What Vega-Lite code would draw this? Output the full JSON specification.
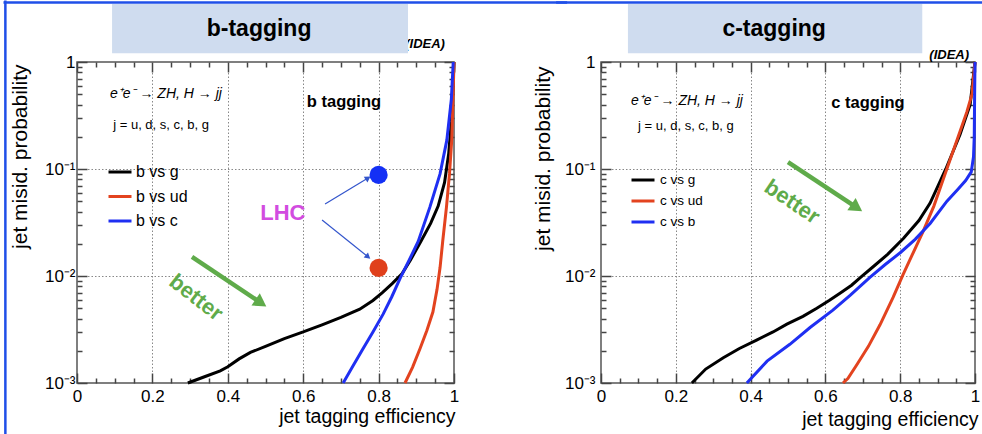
{
  "$schema": "https://vega.github.io/schema/vega-lite/v6.json",
  "padding": {"left": 1, "top": -2, "right": 0, "bottom": 0},
  "config": {
    "view": {"stroke": "#555555", "strokeWidth": 1.5},
    "axis": {"labelColor": "black", "titleColor": "black", "tickColor": "#444444", "tickWidth": 1.5, "domain": false, "labelFont": "Liberation Sans", "titleFont": "Liberation Sans"},
    "legend": {"labelFont": "Liberation Sans"},
    "text": {"font": "Liberation Sans"}
  },
  "bounds": "flush",
  "spacing": 147,
  "resolve": {"scale": {"color": "independent"}, "legend": {"color": "independent"}},
  "hconcat": [
    {
      "width": 377,
      "height": 321,
      "resolve": {"axis": {"x": "independent", "y": "independent"}},
      "layer": [
        {
          "data": {"values": [
            {"s": "b vs g", "x": 0.294, "y": 0.001}, {"s": "b vs g", "x": 0.34, "y": 0.00115}, {"s": "b vs g", "x": 0.38, "y": 0.0013}, {"s": "b vs g", "x": 0.40, "y": 0.00142}, {"s": "b vs g", "x": 0.43, "y": 0.00168}, {"s": "b vs g", "x": 0.46, "y": 0.00193}, {"s": "b vs g", "x": 0.50, "y": 0.0022}, {"s": "b vs g", "x": 0.55, "y": 0.0026}, {"s": "b vs g", "x": 0.60, "y": 0.0030}, {"s": "b vs g", "x": 0.65, "y": 0.0035}, {"s": "b vs g", "x": 0.70, "y": 0.0041}, {"s": "b vs g", "x": 0.75, "y": 0.0049}, {"s": "b vs g", "x": 0.785, "y": 0.0059}, {"s": "b vs g", "x": 0.81, "y": 0.0070}, {"s": "b vs g", "x": 0.836, "y": 0.0085}, {"s": "b vs g", "x": 0.862, "y": 0.0105}, {"s": "b vs g", "x": 0.885, "y": 0.0142}, {"s": "b vs g", "x": 0.912, "y": 0.021}, {"s": "b vs g", "x": 0.938, "y": 0.031}, {"s": "b vs g", "x": 0.958, "y": 0.045}, {"s": "b vs g", "x": 0.975, "y": 0.075}, {"s": "b vs g", "x": 0.986, "y": 0.14}, {"s": "b vs g", "x": 0.993, "y": 0.28}, {"s": "b vs g", "x": 0.997, "y": 0.55}, {"s": "b vs g", "x": 1.0, "y": 1.0},
            {"s": "b vs ud", "x": 0.870, "y": 0.001}, {"s": "b vs ud", "x": 0.89, "y": 0.0014}, {"s": "b vs ud", "x": 0.91, "y": 0.0021}, {"s": "b vs ud", "x": 0.928, "y": 0.0031}, {"s": "b vs ud", "x": 0.944, "y": 0.0046}, {"s": "b vs ud", "x": 0.955, "y": 0.0075}, {"s": "b vs ud", "x": 0.963, "y": 0.012}, {"s": "b vs ud", "x": 0.97, "y": 0.021}, {"s": "b vs ud", "x": 0.98, "y": 0.044}, {"s": "b vs ud", "x": 0.988, "y": 0.09}, {"s": "b vs ud", "x": 0.994, "y": 0.186}, {"s": "b vs ud", "x": 0.998, "y": 0.55}, {"s": "b vs ud", "x": 1.0, "y": 1.0},
            {"s": "b vs c", "x": 0.706, "y": 0.001}, {"s": "b vs c", "x": 0.73, "y": 0.0014}, {"s": "b vs c", "x": 0.759, "y": 0.0021}, {"s": "b vs c", "x": 0.785, "y": 0.003}, {"s": "b vs c", "x": 0.812, "y": 0.0044}, {"s": "b vs c", "x": 0.835, "y": 0.0064}, {"s": "b vs c", "x": 0.857, "y": 0.0095}, {"s": "b vs c", "x": 0.88, "y": 0.0138}, {"s": "b vs c", "x": 0.905, "y": 0.021}, {"s": "b vs c", "x": 0.936, "y": 0.044}, {"s": "b vs c", "x": 0.963, "y": 0.09}, {"s": "b vs c", "x": 0.981, "y": 0.186}, {"s": "b vs c", "x": 0.993, "y": 0.45}, {"s": "b vs c", "x": 0.998, "y": 1.0}
          ]},
          "mark": {"type": "line", "strokeWidth": 3},
          "encoding": {
            "x": {"field": "x", "type": "quantitative", "scale": {"domain": [0, 1], "nice": false, "zero": false},
              "axis": {"orient": "bottom", "values": [0, 0.2, 0.4, 0.6, 0.8, 1], "ticks": true, "tickSize": -10, "grid": false,
                "labelOverlap": false, "labelFlush": false, "labelFontSize": 17, "labelPadding": 15, "format": "~g",
                "title": "jet tagging efficiency", "titleFontSize": 19.5, "titleFontWeight": "normal", "titleAlign": "right", "titleX": 378, "titleY": 39, "titleBaseline": "alphabetic"}},
            "y": {"field": "y", "type": "quantitative", "scale": {"type": "log", "domain": [0.001, 1], "nice": false},
              "axis": {"orient": "left", "values": [0.001, 0.01, 0.1, 1], "ticks": true, "tickSize": -10, "grid": false,
                "labelExpr": "abs(datum.value-1)<1e-6 ? '1' : abs(datum.value-0.1)<1e-6 ? '10⁻¹' : abs(datum.value-0.01)<1e-7 ? '10⁻²' : '10⁻³'",
                "labelOverlap": false, "labelFlush": false, "labelFontSize": 17, "labelPadding": 12,
                "title": "jet misid. probability", "titleFontSize": 21, "titleFontWeight": "normal", "titleAngle": -90, "titleAlign": "right", "titleX": -51, "titleY": 2, "titleBaseline": "alphabetic"}},
            "color": {"field": "s", "type": "nominal", "scale": {"domain": ["b vs g", "b vs ud", "b vs c"], "range": ["#000000", "#e3431f", "#1f2ff2"]},
              "legend": {"orient": "none", "legendX": 30, "legendY": 97, "title": null, "symbolType": "stroke", "symbolStrokeWidth": 3, "symbolSize": 529, "labelFontSize": 16, "labelColor": "black", "rowPadding": 3.5, "labelOffset": 3, "padding": 0}}
          }
        },
        {
          "data": {"values": [{"x": 0.5, "y": 0.1}]},
          "mark": {"type": "point", "opacity": 0},
          "encoding": {
            "x": {"field": "x", "type": "quantitative", "scale": {"domain": [0, 1], "nice": false, "zero": false},
              "axis": {"orient": "bottom", "values": [0.2, 0.4, 0.6, 0.8], "ticks": false, "labels": false, "title": null, "grid": true, "gridDash": [1.5, 2], "gridColor": "#888888", "gridWidth": 1}},
            "y": {"field": "y", "type": "quantitative", "scale": {"type": "log", "domain": [0.001, 1], "nice": false},
              "axis": {"orient": "left", "values": [0.01, 0.1], "ticks": false, "labels": false, "title": null, "grid": true, "gridDash": [1.5, 2], "gridColor": "#888888", "gridWidth": 1}}
          }
        },
        {
          "data": {"values": [{"x": 0.5, "y": 0.1}]},
          "mark": {"type": "point", "opacity": 0},
          "encoding": {
            "x": {"field": "x", "type": "quantitative", "scale": {"domain": [0, 1], "nice": false, "zero": false},
              "axis": {"orient": "top", "offset": -10, "ticks": true, "tickSize": 10, "tickColor": "#444444", "tickWidth": 1.5, "values": [0, 0.2, 0.4, 0.6, 0.8, 1], "labels": false, "title": null}},
            "y": {"field": "y", "type": "quantitative", "scale": {"type": "log", "domain": [0.001, 1], "nice": false},
              "axis": {"orient": "right", "offset": -10, "ticks": true, "tickSize": 10, "tickColor": "#444444", "tickWidth": 1.5, "values": [0.001, 0.01, 0.1, 1], "labels": false, "title": null}}
          }
        },
        {
          "data": {"values": [{"x": 0.5, "y": 0.1}]},
          "mark": {"type": "point", "opacity": 0},
          "encoding": {
            "x": {"field": "x", "type": "quantitative", "scale": {"domain": [0, 1], "nice": false, "zero": false},
              "axis": {"orient": "bottom", "offset": -5, "ticks": true, "tickSize": 5, "tickColor": "#444444", "tickWidth": 1.5, "values": [0.05,0.1,0.15,0.25,0.3,0.35,0.45,0.5,0.55,0.65,0.7,0.75,0.85,0.9,0.95], "labels": false, "title": null}},
            "y": {"field": "y", "type": "quantitative", "scale": {"type": "log", "domain": [0.001, 1], "nice": false},
              "axis": {"orient": "left", "offset": -5, "ticks": true, "tickSize": 5, "tickColor": "#444444", "tickWidth": 1.5, "values": [0.002,0.003,0.004,0.005,0.006,0.007,0.008,0.009,0.02,0.03,0.04,0.05,0.06,0.07,0.08,0.09,0.2,0.3,0.4,0.5,0.6,0.7,0.8,0.9], "labels": false, "title": null}}
          }
        },
        {
          "data": {"values": [{"x": 0.5, "y": 0.1}]},
          "mark": {"type": "point", "opacity": 0},
          "encoding": {
            "x": {"field": "x", "type": "quantitative", "scale": {"domain": [0, 1], "nice": false, "zero": false},
              "axis": {"orient": "top", "offset": -5, "ticks": true, "tickSize": 5, "tickColor": "#444444", "tickWidth": 1.5, "values": [0.05,0.1,0.15,0.25,0.3,0.35,0.45,0.5,0.55,0.65,0.7,0.75,0.85,0.9,0.95], "labels": false, "title": null}},
            "y": {"field": "y", "type": "quantitative", "scale": {"type": "log", "domain": [0.001, 1], "nice": false},
              "axis": {"orient": "right", "offset": -5, "ticks": true, "tickSize": 5, "tickColor": "#444444", "tickWidth": 1.5, "values": [0.002,0.003,0.004,0.005,0.006,0.007,0.008,0.009,0.02,0.03,0.04,0.05,0.06,0.07,0.08,0.09,0.2,0.3,0.4,0.5,0.6,0.7,0.8,0.9], "labels": false, "title": null}}
          }
        },
        {
          "data": {"values": [{"x": -0.19, "x2": -0.19, "y": 3.75, "y2": 0.0003}, {"x": -0.195, "x2": 1.3, "y": 3.6, "y2": 3.6}]},
          "mark": {"type": "rule", "color": "#1f4fe8", "strokeWidth": 2.5},
          "encoding": {"x": {"field": "x", "type": "quantitative", "axis": null}, "x2": {"field": "x2"}, "y": {"field": "y", "type": "quantitative", "axis": null}, "y2": {"field": "y2"}}
        },
        {
          "data": {"values": [{"x": 0.976, "y": 1.47, "t": "FCC-ee Simulation (IDEA)"}]},
          "mark": {"type": "text", "align": "right", "baseline": "middle", "fontSize": 13, "fontStyle": "italic", "fontWeight": "bold", "color": "black"},
          "encoding": {"x": {"field": "x", "type": "quantitative", "axis": null}, "y": {"field": "y", "type": "quantitative", "axis": null}, "text": {"field": "t"}}
        },
        {
          "data": {"values": [{"x": 0.093, "x2": 0.878, "y": 3.48, "y2": 1.21}]},
          "mark": {"type": "rect", "color": "#cfdcef"},
          "encoding": {"x": {"field": "x", "type": "quantitative", "axis": null}, "x2": {"field": "x2"}, "y": {"field": "y", "type": "quantitative", "axis": null}, "y2": {"field": "y2"}}
        },
        {
          "data": {"values": [{"x": 0.483, "y": 2.03, "t": "b-tagging"}]},
          "mark": {"type": "text", "align": "center", "baseline": "middle", "fontSize": 23, "fontWeight": "bold", "color": "black"},
          "encoding": {"x": {"field": "x", "type": "quantitative", "axis": null}, "y": {"field": "y", "type": "quantitative", "axis": null}, "text": {"field": "t"}}
        },
        {
          "data": {"values": [{"x": 0.236, "y": 0.5, "t": "e⁺e⁻ → ZH, H → jj"}]},
          "mark": {"type": "text", "align": "center", "baseline": "middle", "fontSize": 14, "fontStyle": "italic", "color": "black"},
          "encoding": {"x": {"field": "x", "type": "quantitative", "axis": null}, "y": {"field": "y", "type": "quantitative", "axis": null}, "text": {"field": "t"}}
        },
        {
          "data": {"values": [{"x": 0.223, "y": 0.26, "t": "j = u, d, s, c, b, g"}]},
          "mark": {"type": "text", "align": "center", "baseline": "middle", "fontSize": 13, "color": "black"},
          "encoding": {"x": {"field": "x", "type": "quantitative", "axis": null}, "y": {"field": "y", "type": "quantitative", "axis": null}, "text": {"field": "t"}}
        },
        {
          "data": {"values": [{"x": 0.708, "y": 0.42, "t": "b tagging"}]},
          "mark": {"type": "text", "align": "center", "baseline": "middle", "fontSize": 16.5, "fontWeight": "bold", "color": "black"},
          "encoding": {"x": {"field": "x", "type": "quantitative", "axis": null}, "y": {"field": "y", "type": "quantitative", "axis": null}, "text": {"field": "t"}}
        },
        {
          "data": {"values": [{"x": 0.546, "y": 0.039, "t": "LHC"}]},
          "mark": {"type": "text", "align": "center", "baseline": "middle", "fontSize": 22, "fontWeight": "bold", "color": "#d24ce0"},
          "encoding": {"x": {"field": "x", "type": "quantitative", "axis": null}, "y": {"field": "y", "type": "quantitative", "axis": null}, "text": {"field": "t"}}
        },
        {
          "data": {"values": [{"x": 0.658, "y": 0.0471, "x2": 0.772, "y2": 0.0824}, {"x": 0.65, "y": 0.0334, "x2": 0.772, "y2": 0.0151}]},
          "mark": {"type": "rule", "color": "#3355cc", "strokeWidth": 1.2},
          "encoding": {"x": {"field": "x", "type": "quantitative", "axis": null}, "x2": {"field": "x2"}, "y": {"field": "y", "type": "quantitative", "axis": null}, "y2": {"field": "y2"}}
        },
        {
          "data": {"values": [{"x": 0.772, "y": 0.0824}]},
          "mark": {"type": "point", "shape": "triangle-right", "angle": -33, "size": 45, "filled": true, "color": "#3355cc", "opacity": 1},
          "encoding": {"x": {"field": "x", "type": "quantitative", "axis": null}, "y": {"field": "y", "type": "quantitative", "axis": null}}
        },
        {
          "data": {"values": [{"x": 0.772, "y": 0.0151}]},
          "mark": {"type": "point", "shape": "triangle-right", "angle": 40, "size": 45, "filled": true, "color": "#3355cc", "opacity": 1},
          "encoding": {"x": {"field": "x", "type": "quantitative", "axis": null}, "y": {"field": "y", "type": "quantitative", "axis": null}}
        },
        {
          "data": {"values": [{"x": 0.8, "y": 0.088}]},
          "mark": {"type": "point", "shape": "circle", "size": 330, "filled": true, "color": "#1430f5", "opacity": 1},
          "encoding": {"x": {"field": "x", "type": "quantitative", "axis": null}, "y": {"field": "y", "type": "quantitative", "axis": null}}
        },
        {
          "data": {"values": [{"x": 0.8, "y": 0.0119}]},
          "mark": {"type": "point", "shape": "circle", "size": 330, "filled": true, "color": "#e0401c", "opacity": 1},
          "encoding": {"x": {"field": "x", "type": "quantitative", "axis": null}, "y": {"field": "y", "type": "quantitative", "axis": null}}
        },
        {
          "data": {"values": [{"x": 0.305, "y": 0.0151, "x2": 0.488, "y2": 0.0056}]},
          "mark": {"type": "rule", "color": "#5fab4a", "strokeWidth": 4.5},
          "encoding": {"x": {"field": "x", "type": "quantitative", "axis": null}, "x2": {"field": "x2"}, "y": {"field": "y", "type": "quantitative", "axis": null}, "y2": {"field": "y2"}}
        },
        {
          "data": {"values": [{"x": 0.488, "y": 0.0056}]},
          "mark": {"type": "point", "shape": "triangle-right", "angle": 34, "size": 220, "filled": true, "color": "#5fab4a", "opacity": 1},
          "encoding": {"x": {"field": "x", "type": "quantitative", "axis": null}, "y": {"field": "y", "type": "quantitative", "axis": null}}
        },
        {
          "data": {"values": [{"x": 0.316, "y": 0.0063, "t": "better"}]},
          "mark": {"type": "text", "align": "center", "baseline": "middle", "fontSize": 22, "fontWeight": "bold", "angle": 38, "color": "#5fab4a"},
          "encoding": {"x": {"field": "x", "type": "quantitative", "axis": null}, "y": {"field": "y", "type": "quantitative", "axis": null}, "text": {"field": "t"}}
        }
      ]
    },
    {
      "width": 374,
      "height": 321,
      "resolve": {"axis": {"x": "independent", "y": "independent"}},
      "layer": [
        {
          "data": {"values": [
            {"s": "c vs g", "x": 0.243, "y": 0.001}, {"s": "c vs g", "x": 0.28, "y": 0.00135}, {"s": "c vs g", "x": 0.327, "y": 0.00172}, {"s": "c vs g", "x": 0.37, "y": 0.0021}, {"s": "c vs g", "x": 0.416, "y": 0.00252}, {"s": "c vs g", "x": 0.46, "y": 0.003}, {"s": "c vs g", "x": 0.497, "y": 0.00355}, {"s": "c vs g", "x": 0.54, "y": 0.0042}, {"s": "c vs g", "x": 0.577, "y": 0.0050}, {"s": "c vs g", "x": 0.61, "y": 0.0059}, {"s": "c vs g", "x": 0.639, "y": 0.0069}, {"s": "c vs g", "x": 0.67, "y": 0.0082}, {"s": "c vs g", "x": 0.694, "y": 0.0097}, {"s": "c vs g", "x": 0.73, "y": 0.0124}, {"s": "c vs g", "x": 0.767, "y": 0.016}, {"s": "c vs g", "x": 0.809, "y": 0.0225}, {"s": "c vs g", "x": 0.85, "y": 0.033}, {"s": "c vs g", "x": 0.88, "y": 0.048}, {"s": "c vs g", "x": 0.922, "y": 0.1}, {"s": "c vs g", "x": 0.96, "y": 0.21}, {"s": "c vs g", "x": 0.987, "y": 0.40}, {"s": "c vs g", "x": 1.0, "y": 1.0},
            {"s": "c vs ud", "x": 0.647, "y": 0.001}, {"s": "c vs ud", "x": 0.66, "y": 0.0011}, {"s": "c vs ud", "x": 0.684, "y": 0.00148}, {"s": "c vs ud", "x": 0.715, "y": 0.0022}, {"s": "c vs ud", "x": 0.746, "y": 0.0035}, {"s": "c vs ud", "x": 0.781, "y": 0.0063}, {"s": "c vs ud", "x": 0.807, "y": 0.0102}, {"s": "c vs ud", "x": 0.834, "y": 0.0163}, {"s": "c vs ud", "x": 0.861, "y": 0.026}, {"s": "c vs ud", "x": 0.89, "y": 0.045}, {"s": "c vs ud", "x": 0.92, "y": 0.09}, {"s": "c vs ud", "x": 0.955, "y": 0.2}, {"s": "c vs ud", "x": 0.978, "y": 0.34}, {"s": "c vs ud", "x": 0.992, "y": 0.5}, {"s": "c vs ud", "x": 1.0, "y": 1.0},
            {"s": "c vs b", "x": 0.39, "y": 0.001}, {"s": "c vs b", "x": 0.444, "y": 0.0016}, {"s": "c vs b", "x": 0.505, "y": 0.0023}, {"s": "c vs b", "x": 0.559, "y": 0.0033}, {"s": "c vs b", "x": 0.62, "y": 0.0048}, {"s": "c vs b", "x": 0.666, "y": 0.0066}, {"s": "c vs b", "x": 0.719, "y": 0.0097}, {"s": "c vs b", "x": 0.76, "y": 0.0128}, {"s": "c vs b", "x": 0.8, "y": 0.0165}, {"s": "c vs b", "x": 0.84, "y": 0.022}, {"s": "c vs b", "x": 0.88, "y": 0.031}, {"s": "c vs b", "x": 0.925, "y": 0.05}, {"s": "c vs b", "x": 0.955, "y": 0.065}, {"s": "c vs b", "x": 0.975, "y": 0.078}, {"s": "c vs b", "x": 0.99, "y": 0.094}, {"s": "c vs b", "x": 0.996, "y": 0.13}, {"s": "c vs b", "x": 0.998, "y": 0.2}, {"s": "c vs b", "x": 0.999, "y": 0.5}, {"s": "c vs b", "x": 1.0, "y": 1.0}
          ]},
          "mark": {"type": "line", "strokeWidth": 3},
          "encoding": {
            "x": {"field": "x", "type": "quantitative", "scale": {"domain": [0, 1], "nice": false, "zero": false},
              "axis": {"orient": "bottom", "values": [0, 0.2, 0.4, 0.6, 0.8, 1], "ticks": true, "tickSize": -10, "grid": false,
                "labelOverlap": false, "labelFlush": false, "labelFontSize": 17, "labelPadding": 15, "format": "~g",
                "title": "jet tagging efficiency", "titleFontSize": 19.5, "titleFontWeight": "normal", "titleAlign": "right", "titleX": 377, "titleY": 42, "titleBaseline": "alphabetic"}},
            "y": {"field": "y", "type": "quantitative", "scale": {"type": "log", "domain": [0.001, 1], "nice": false},
              "axis": {"orient": "left", "values": [0.001, 0.01, 0.1, 1], "ticks": true, "tickSize": -10, "grid": false,
                "labelExpr": "abs(datum.value-1)<1e-6 ? '1' : abs(datum.value-0.1)<1e-6 ? '10⁻¹' : abs(datum.value-0.01)<1e-7 ? '10⁻²' : '10⁻³'",
                "labelOverlap": false, "labelFlush": false, "labelFontSize": 17, "labelPadding": 16,
                "title": "jet misid. probability", "titleFontSize": 21, "titleFontWeight": "normal", "titleAngle": -90, "titleAlign": "right", "titleX": -52, "titleY": 4, "titleBaseline": "alphabetic"}},
            "color": {"field": "s", "type": "nominal", "scale": {"domain": ["c vs g", "c vs ud", "c vs b"], "range": ["#000000", "#e3431f", "#1f2ff2"]},
              "legend": {"orient": "none", "legendX": 29, "legendY": 105, "title": null, "symbolType": "stroke", "symbolStrokeWidth": 3, "symbolSize": 529, "labelFontSize": 13.5, "labelColor": "black", "rowPadding": 1, "labelOffset": 4, "padding": 0}}
          }
        },
        {
          "data": {"values": [{"x": 0.5, "y": 0.1}]},
          "mark": {"type": "point", "opacity": 0},
          "encoding": {
            "x": {"field": "x", "type": "quantitative", "scale": {"domain": [0, 1], "nice": false, "zero": false},
              "axis": {"orient": "bottom", "values": [0.2, 0.4, 0.6, 0.8], "ticks": false, "labels": false, "title": null, "grid": true, "gridDash": [1.5, 2], "gridColor": "#888888", "gridWidth": 1}},
            "y": {"field": "y", "type": "quantitative", "scale": {"type": "log", "domain": [0.001, 1], "nice": false},
              "axis": {"orient": "left", "values": [0.01, 0.1], "ticks": false, "labels": false, "title": null, "grid": true, "gridDash": [1.5, 2], "gridColor": "#888888", "gridWidth": 1}}
          }
        },
        {
          "data": {"values": [{"x": 0.5, "y": 0.1}]},
          "mark": {"type": "point", "opacity": 0},
          "encoding": {
            "x": {"field": "x", "type": "quantitative", "scale": {"domain": [0, 1], "nice": false, "zero": false},
              "axis": {"orient": "top", "offset": -10, "ticks": true, "tickSize": 10, "tickColor": "#444444", "tickWidth": 1.5, "values": [0, 0.2, 0.4, 0.6, 0.8, 1], "labels": false, "title": null}},
            "y": {"field": "y", "type": "quantitative", "scale": {"type": "log", "domain": [0.001, 1], "nice": false},
              "axis": {"orient": "right", "offset": -10, "ticks": true, "tickSize": 10, "tickColor": "#444444", "tickWidth": 1.5, "values": [0.001, 0.01, 0.1, 1], "labels": false, "title": null}}
          }
        },
        {
          "data": {"values": [{"x": 0.5, "y": 0.1}]},
          "mark": {"type": "point", "opacity": 0},
          "encoding": {
            "x": {"field": "x", "type": "quantitative", "scale": {"domain": [0, 1], "nice": false, "zero": false},
              "axis": {"orient": "bottom", "offset": -5, "ticks": true, "tickSize": 5, "tickColor": "#444444", "tickWidth": 1.5, "values": [0.05,0.1,0.15,0.25,0.3,0.35,0.45,0.5,0.55,0.65,0.7,0.75,0.85,0.9,0.95], "labels": false, "title": null}},
            "y": {"field": "y", "type": "quantitative", "scale": {"type": "log", "domain": [0.001, 1], "nice": false},
              "axis": {"orient": "left", "offset": -5, "ticks": true, "tickSize": 5, "tickColor": "#444444", "tickWidth": 1.5, "values": [0.002,0.003,0.004,0.005,0.006,0.007,0.008,0.009,0.02,0.03,0.04,0.05,0.06,0.07,0.08,0.09,0.2,0.3,0.4,0.5,0.6,0.7,0.8,0.9], "labels": false, "title": null}}
          }
        },
        {
          "data": {"values": [{"x": 0.5, "y": 0.1}]},
          "mark": {"type": "point", "opacity": 0},
          "encoding": {
            "x": {"field": "x", "type": "quantitative", "scale": {"domain": [0, 1], "nice": false, "zero": false},
              "axis": {"orient": "top", "offset": -5, "ticks": true, "tickSize": 5, "tickColor": "#444444", "tickWidth": 1.5, "values": [0.05,0.1,0.15,0.25,0.3,0.35,0.45,0.5,0.55,0.65,0.7,0.75,0.85,0.9,0.95], "labels": false, "title": null}},
            "y": {"field": "y", "type": "quantitative", "scale": {"type": "log", "domain": [0.001, 1], "nice": false},
              "axis": {"orient": "right", "offset": -5, "ticks": true, "tickSize": 5, "tickColor": "#444444", "tickWidth": 1.5, "values": [0.002,0.003,0.004,0.005,0.006,0.007,0.008,0.009,0.02,0.03,0.04,0.05,0.06,0.07,0.08,0.09,0.2,0.3,0.4,0.5,0.6,0.7,0.8,0.9], "labels": false, "title": null}}
          }
        },
        {
          "data": {"values": [{"x": -0.12, "x2": 1.03, "y": 3.6, "y2": 3.6}]},
          "mark": {"type": "rule", "color": "#1f4fe8", "strokeWidth": 2.5},
          "encoding": {"x": {"field": "x", "type": "quantitative", "axis": null}, "x2": {"field": "x2"}, "y": {"field": "y", "type": "quantitative", "axis": null}, "y2": {"field": "y2"}}
        },
        {
          "data": {"values": [{"x": 0.984, "y": 1.16, "t": "(IDEA)"}]},
          "mark": {"type": "text", "align": "right", "baseline": "middle", "fontSize": 13, "fontStyle": "italic", "fontWeight": "bold", "color": "black"},
          "encoding": {"x": {"field": "x", "type": "quantitative", "axis": null}, "y": {"field": "y", "type": "quantitative", "axis": null}, "text": {"field": "t"}}
        },
        {
          "data": {"values": [{"x": 0.072, "x2": 0.859, "y": 3.48, "y2": 1.21}]},
          "mark": {"type": "rect", "color": "#cfdcef"},
          "encoding": {"x": {"field": "x", "type": "quantitative", "axis": null}, "x2": {"field": "x2"}, "y": {"field": "y", "type": "quantitative", "axis": null}, "y2": {"field": "y2"}}
        },
        {
          "data": {"values": [{"x": 0.463, "y": 2.03, "t": "c-tagging"}]},
          "mark": {"type": "text", "align": "center", "baseline": "middle", "fontSize": 23, "fontWeight": "bold", "color": "black"},
          "encoding": {"x": {"field": "x", "type": "quantitative", "axis": null}, "y": {"field": "y", "type": "quantitative", "axis": null}, "text": {"field": "t"}}
        },
        {
          "data": {"values": [{"x": 0.23, "y": 0.435, "t": "e⁺e⁻ → ZH, H → jj"}]},
          "mark": {"type": "text", "align": "center", "baseline": "middle", "fontSize": 14, "fontStyle": "italic", "color": "black"},
          "encoding": {"x": {"field": "x", "type": "quantitative", "axis": null}, "y": {"field": "y", "type": "quantitative", "axis": null}, "text": {"field": "t"}}
        },
        {
          "data": {"values": [{"x": 0.227, "y": 0.25, "t": "j = u, d, s, c, b, g"}]},
          "mark": {"type": "text", "align": "center", "baseline": "middle", "fontSize": 13, "color": "black"},
          "encoding": {"x": {"field": "x", "type": "quantitative", "axis": null}, "y": {"field": "y", "type": "quantitative", "axis": null}, "text": {"field": "t"}}
        },
        {
          "data": {"values": [{"x": 0.714, "y": 0.413, "t": "c tagging"}]},
          "mark": {"type": "text", "align": "center", "baseline": "middle", "fontSize": 16.5, "fontWeight": "bold", "color": "black"},
          "encoding": {"x": {"field": "x", "type": "quantitative", "axis": null}, "y": {"field": "y", "type": "quantitative", "axis": null}, "text": {"field": "t"}}
        },
        {
          "data": {"values": [{"x": 0.5, "y": 0.116, "x2": 0.684, "y2": 0.0435}]},
          "mark": {"type": "rule", "color": "#5fab4a", "strokeWidth": 4.5},
          "encoding": {"x": {"field": "x", "type": "quantitative", "axis": null}, "x2": {"field": "x2"}, "y": {"field": "y", "type": "quantitative", "axis": null}, "y2": {"field": "y2"}}
        },
        {
          "data": {"values": [{"x": 0.684, "y": 0.0435}]},
          "mark": {"type": "point", "shape": "triangle-right", "angle": 34, "size": 220, "filled": true, "color": "#5fab4a", "opacity": 1},
          "encoding": {"x": {"field": "x", "type": "quantitative", "axis": null}, "y": {"field": "y", "type": "quantitative", "axis": null}}
        },
        {
          "data": {"values": [{"x": 0.511, "y": 0.0494, "t": "better"}]},
          "mark": {"type": "text", "align": "center", "baseline": "middle", "fontSize": 22, "fontWeight": "bold", "angle": 34, "color": "#5fab4a"},
          "encoding": {"x": {"field": "x", "type": "quantitative", "axis": null}, "y": {"field": "y", "type": "quantitative", "axis": null}, "text": {"field": "t"}}
        }
      ]
    }
  ]
}
